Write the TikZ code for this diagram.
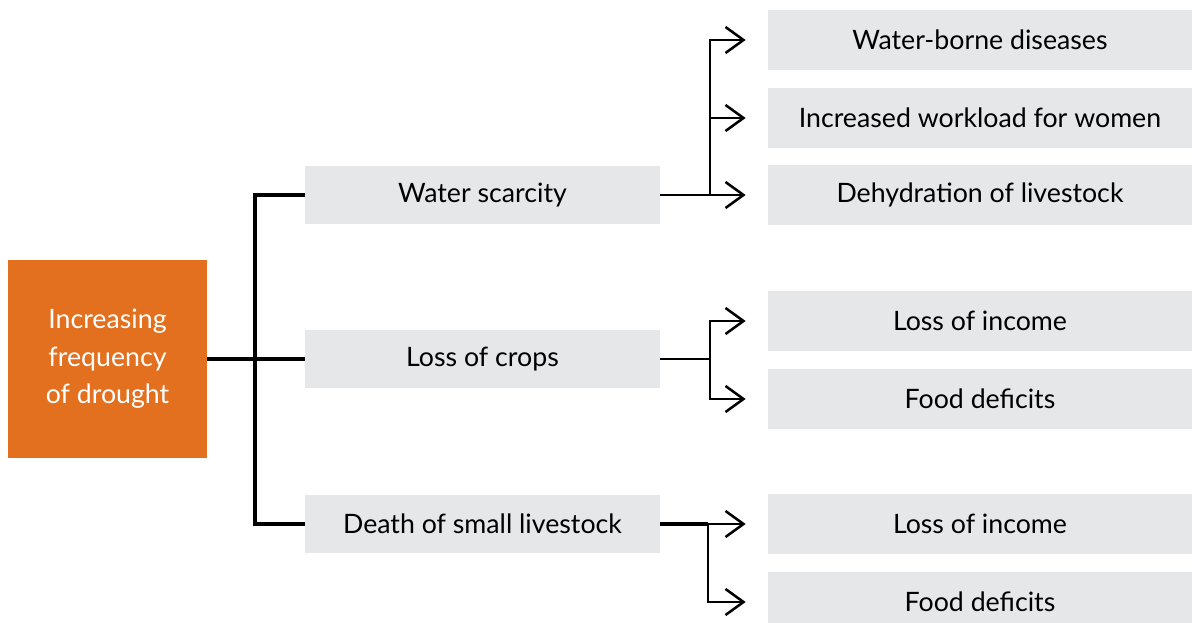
\documentclass[tikz,border=0pt]{standalone}
\usepackage{fontspec}
\setmainfont{Lato}
\usetikzlibrary{arrows.meta}
\definecolor{drought}{HTML}{E2701F}
\definecolor{boxgray}{HTML}{E6E7E8}
\newcommand{\bigfont}{\fontsize{19}{26.6}\selectfont}
\begin{document}
\begin{tikzpicture}[x=0.025cm,y=-0.025cm]
			\tikzstyle{cause}=[fill=drought,text=white,inner sep=0pt,minimum width=4.975cm,minimum height=4.95cm,align=center,font=\bigfont]
			\tikzstyle{effect}=[fill=boxgray,inner sep=0pt,minimum width=8.875cm,minimum height=1.45cm,font=\bigfont]
			\tikzstyle{impact}=[fill=boxgray,inner sep=0pt,minimum width=10.6cm,minimum height=1.475cm,font=\bigfont]
			\tikzstyle{link}=[line width=2.6pt]
			\tikzstyle{thinlink}=[line width=0.9pt]
			\tikzstyle{pointer}=[-{Straight Barb[length=0.45cm,width=0.65cm]},line width=1.8pt,shorten >=0.55cm]
			\useasboundingbox (0,0) rectangle (1192,623);
				\node[cause](root) at (107.5,359){Increasing\\frequency\\of drought};
				\node[effect](water) at (482.5,195){Water scarcity};
				\node[effect](crops) at (482.5,359){Loss of crops};
				\node[effect](death) at (482.5,524){Death of small livestock};
				\node[impact](borne) at (980,40){Water-borne diseases};
				\node[impact](work) at (980,118){Increased workload for women};
				\node[impact](dehyd) at (980,195){Dehydration of livestock};
				\node[impact](income1) at (980,321){Loss of income};
				\node[impact](food1) at (980,399){Food deficits};
				\node[impact](income2) at (980,524){Loss of income};
				\node[impact](food2) at (980,602){Food deficits};
				\coordinate (spine) at (255,359);
				\coordinate (wj) at (710,195);
				\coordinate (cj) at (710,359);
				\coordinate (dj) at (708,524);
				% cause to effects
				\draw[link] (root) -- (crops);
				\draw[link] (water.west) -| (spine) |- (death.west);
				% water scarcity
				\draw[thinlink] (water.east) -- (wj);
				\draw[pointer] (wj) -- (dehyd.west);
				\draw[pointer] (wj) |- (borne.west);
				\draw[pointer] (wj) |- (work.west);
				% loss of crops
				\draw[thinlink] (crops.east) -- (cj);
				\draw[pointer] (cj) |- (income1.west);
				\draw[pointer] (cj) |- (food1.west);
				% death of small livestock
				\draw[link] (death.east) -- (dj);
				\draw[pointer] (dj) -- (income2.west);
				\draw[pointer] (dj) |- (food2.west);
			\end{tikzpicture}
\end{document}
